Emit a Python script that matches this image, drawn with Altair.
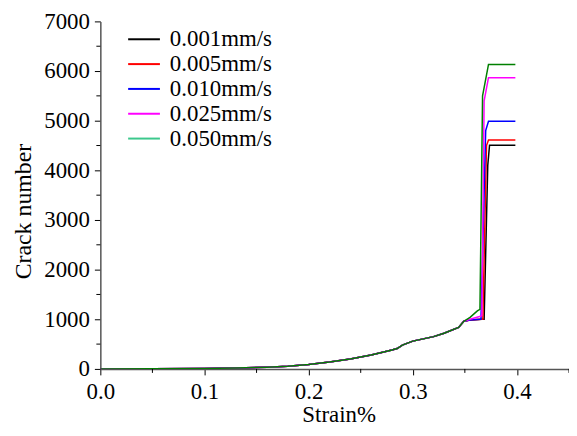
import altair as alt
import pandas as pd

series = ["0.001mm/s", "0.005mm/s", "0.010mm/s", "0.025mm/s", "0.050mm/s"]
line_colors = ["#000000", "#ff0000", "#0000ff", "#ff00ff", "#008000"]
legend_colors = ["#000000", "#ff0000", "#0000ff", "#ff00ff", "#3cc88c"]

# shared early part of all curves (strain %, crack number)
common_x = [0.0, 0.05, 0.10, 0.13, 0.16, 0.18, 0.20, 0.22, 0.24, 0.26, 0.28,
            0.285, 0.29, 0.30, 0.32, 0.33, 0.344, 0.349]
common_y = [0, 3, 10, 18, 35, 55, 90, 140, 200, 280, 380,
            410, 480, 560, 650, 720, 835, 960]

# per-series tail: plateau, sudden jump, final level
tail_x = {
    "0.001mm/s": [0.355, 0.3665, 0.3685, 0.372, 0.3737, 0.3985],
    "0.005mm/s": [0.355, 0.3660, 0.3673, 0.3708, 0.3727, 0.3985],
    "0.010mm/s": [0.355, 0.3650, 0.3655, 0.3700, 0.3727, 0.3985],
    "0.025mm/s": [0.355, 0.3650, 0.3663, 0.3685, 0.3727, 0.3985],
    "0.050mm/s": [0.355, 0.3620, 0.3645, 0.3670, 0.3727, 0.3985],
}
tail_y = {
    "0.001mm/s": [985, 1000, 1000, 4100, 4507, 4507],
    "0.005mm/s": [985, 1000, 1000, 4500, 4613, 4613],
    "0.010mm/s": [985, 1000, 1000, 4800, 4987, 4987],
    "0.025mm/s": [1000, 1060, 1075, 5400, 5867, 5867],
    "0.050mm/s": [1040, 1170, 1200, 5500, 6134, 6134],
}

x_major = [0.0, 0.1, 0.2, 0.3, 0.4]
x_minor = [0.05, 0.15, 0.25, 0.35, 0.45]
y_major = [0, 1000, 2000, 3000, 4000, 5000, 6000, 7000]
y_minor = [500, 1500, 2500, 3500, 4500, 5500, 6500]

rows = []
for i, s in enumerate(series):
    xs = common_x + tail_x[s]
    ys = common_y + tail_y[s]
    for k, (a, b) in enumerate(zip(xs, ys)):
        rows.append({"series": s, "order": i, "k": k, "strain": a, "cracks": b})
df = pd.DataFrame(rows)

FONT = "Liberation Serif"
W, H = 472, 350
LAB = 23
TIT = 23

xscale = alt.Scale(domain=[0, 0.45], nice=False, zero=False)
yscale = alt.Scale(domain=[0, 7000], nice=False)

lines = alt.Chart(df).mark_line(strokeWidth=1.5, clip=True).encode(
    x=alt.X("strain:Q", scale=xscale,
            axis=alt.Axis(title="Strain%", values=x_major, format=".1f",
                          grid=False, tickSize=6, labelPadding=6,
                          labelFlush=False,
                          labelFont=FONT, labelFontSize=LAB,
                          titleFont=FONT, titleFontSize=TIT,
                          titleFontWeight="normal",
                          titleX=W / 2 + 4, titleY=53,
                          titleBaseline="alphabetic")),
    y=alt.Y("cracks:Q", scale=yscale,
            axis=alt.Axis(title="Crack number", values=y_major, format="d",
                          grid=False, tickSize=6, labelPadding=5,
                          labelFlush=False,
                          labelFont=FONT, labelFontSize=LAB,
                          titleFont=FONT, titleFontSize=24,
                          titleFontWeight="normal",
                          titleX=-77, titleY=191, titleBaseline="middle",
                          titleAngle=270)),
    color=alt.Color("series:N", scale=alt.Scale(domain=series, range=line_colors),
                    legend=None),
    detail="series:N",
    order="k:Q",
)

# hand-made legend (swatch colours as in the reference legend)
leg_df = pd.DataFrame({"series": series, "rank": list(range(len(series)))})
leg_y = alt.Y("rank:Q", scale=alt.Scale(domain=[0, 4], range=[18, 118]), axis=None)
leg_rules = alt.Chart(leg_df).mark_rule(strokeWidth=2).encode(
    x=alt.value(28), x2=alt.value(60), y=leg_y,
    stroke=alt.Stroke("series:N", scale=alt.Scale(domain=series, range=legend_colors),
                      legend=None),
)
leg_text = alt.Chart(leg_df).mark_text(
    align="left", baseline="middle", font=FONT, fontSize=LAB, color="#000000"
).encode(x=alt.value(70), y=leg_y, text="series:N")

xminor_df = pd.DataFrame({"v": x_minor})
xminor = alt.Chart(xminor_df).mark_rule(color="#000000", strokeWidth=1).encode(
    x=alt.X("v:Q", scale=xscale),
    y=alt.value(H), y2=alt.value(H + 4),
)
yminor_df = pd.DataFrame({"v": y_minor})
yminor = alt.Chart(yminor_df).mark_rule(color="#000000", strokeWidth=1).encode(
    y=alt.Y("v:Q", scale=yscale, axis=None),
    x=alt.value(-4), x2=alt.value(0),
)

chart = alt.layer(lines, xminor, yminor, leg_rules, leg_text).resolve_scale(
    y="independent", stroke="independent"
).properties(
    width=W, height=H,
    autosize=alt.AutoSizeParams(type="none"),
    padding={"left": 93, "top": 12, "right": 0, "bottom": 58},
    background="#ffffff",
).configure_view(stroke=None).configure_axis(
    labelColor="#000000", titleColor="#000000",
    domainColor="#555555", domainWidth=1.5, tickColor="#000000", tickWidth=1,
)

chart.save("out.html", embed_options={"renderer": "svg", "actions": False})
